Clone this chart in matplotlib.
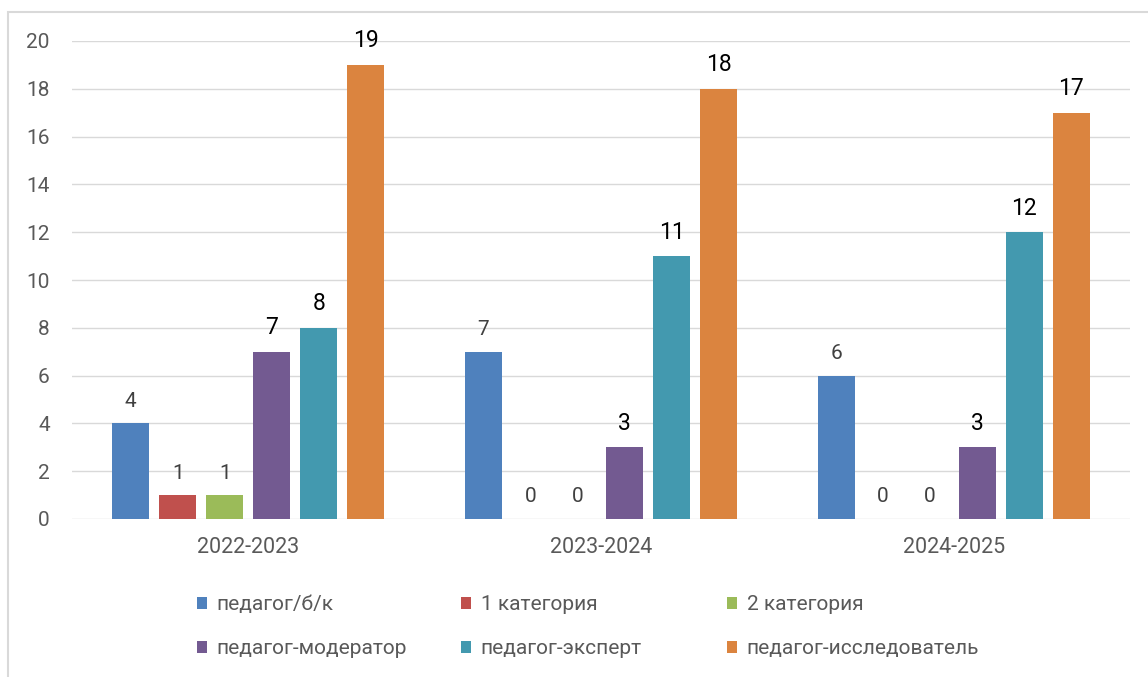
import matplotlib
matplotlib.use('Agg')
import matplotlib.pyplot as plt
from matplotlib.patches import Rectangle
import numpy as np

plt.rcParams['font.family'] = ['Roboto', 'DejaVu Sans']

YEARS = ['2022-2023', '2023-2024', '2024-2025']
SERIES = ['педагог/б/к', '1 категория', '2 категория',
          'педагог-модератор', 'педагог-эксперт', 'педагог-исследователь']
VALUES = [
    [4, 7, 6],
    [1, 0, 0],
    [1, 0, 0],
    [7, 3, 3],
    [8, 11, 12],
    [19, 18, 17],
]
COLORS = ['#4F81BD', '#C0504D', '#9BBB59', '#735A91', '#4399AF', '#DB843F']
BIG_LABEL = [False, False, False, True, True, True]

W, H = 1148, 677
fig = plt.figure(figsize=(W / 100, H / 100), dpi=100)
ax = fig.add_axes([72 / W, 1 - 519 / H, (1130 - 72) / W, (519 - 41) / H])

x = np.arange(len(YEARS))
pitch = 0.1333
width = 0.105
handles = []
for i, (name, vals) in enumerate(zip(SERIES, VALUES)):
    bars = ax.bar(x + (i - 2.5) * pitch, vals, width, color=COLORS[i], label=name, zorder=3)
    handles.append(bars)
    if BIG_LABEL[i]:
        ax.bar_label(bars, padding=9, fontsize=16.5, color='black')
    else:
        ax.bar_label(bars, padding=9, fontsize=15, color='#404040')

ax.set_xlim(-0.5, 2.5)
ax.set_ylim(0, 20)
ax.set_yticks(range(0, 21, 2))
ax.set_xticks(x)
ax.set_xticklabels(YEARS)
ax.tick_params(axis='both', length=0, labelsize=15, labelcolor='#595959')
ax.tick_params(axis='x', pad=13, labelsize=15.5)
ax.tick_params(axis='y', pad=16)
ax.grid(axis='y', color='#D9D9D9', lw=1.0, zorder=0)
for s in ax.spines.values():
    s.set_visible(False)

# legend: 3 columns at fixed positions, 2 rows each
col_x = [197, 461, 727]
for c in range(3):
    leg = fig.legend([handles[c], handles[c + 3]], [SERIES[c], SERIES[c + 3]],
                     loc='center left', bbox_to_anchor=(col_x[c] / W, 1 - 626.5 / H),
                     frameon=False, fontsize=15, labelcolor='#595959',
                     handlelength=0.5, handleheight=0.5, handletextpad=0.45,
                     labelspacing=1.2, borderpad=0, borderaxespad=0)

# chart border (only top and left visible in the crop)
fig.patches.append(Rectangle((7.5 / W, -0.05), 1.1, 1.05 - 11.5 / H,
                             transform=fig.transFigure, fill=False,
                             edgecolor='#D9D9D9', lw=1.5))

fig.savefig('out.png', dpi=100)
